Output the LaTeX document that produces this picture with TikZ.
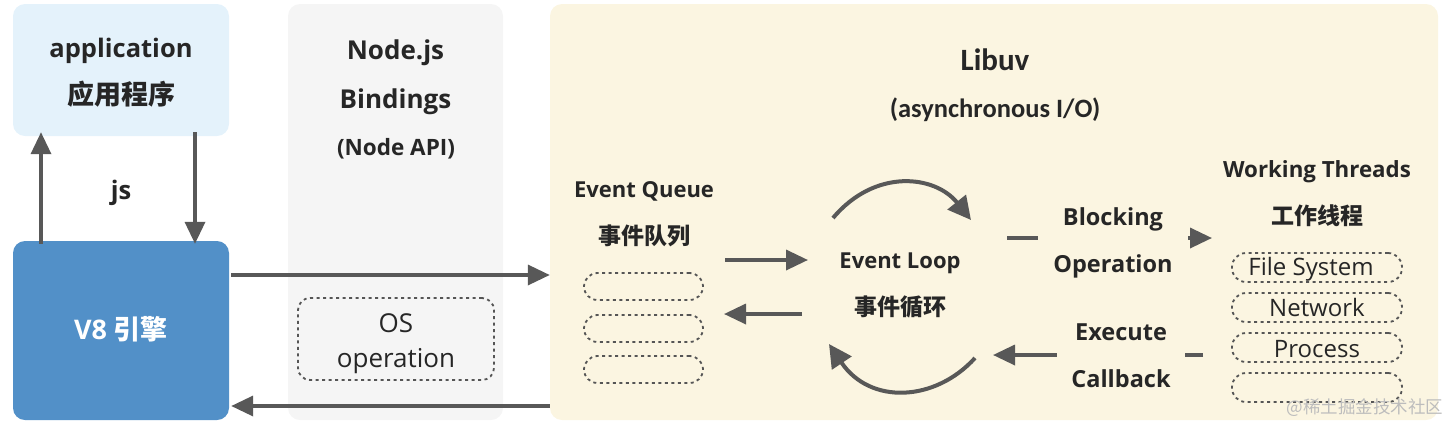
\documentclass[tikz,border=0pt]{standalone}
\usepackage{fontspec}
\setmainfont{Open Sans}
\newfontfamily\cjk{Noto Sans CJK SC}
\newfontfamily\calfont{Carlito}
\usetikzlibrary{arrows.meta}
\definecolor{appblue}{HTML}{E4F2FB}
\definecolor{v8blue}{HTML}{5290C8}
\definecolor{nodegray}{HTML}{F5F5F5}
\definecolor{libuvbg}{HTML}{FBF5E1}
\definecolor{ink}{HTML}{262626}
\definecolor{arrowgray}{HTML}{585858}
\definecolor{dashgray}{HTML}{555555}
\definecolor{wm}{HTML}{BDBDBD}
\newcommand\setfs[1]{\fontsize{#1}{#1}\selectfont}
\begin{document}
\begin{tikzpicture}[x=1pt,y=-1pt,
  panel/.style={rounded corners=12pt, minimum width=#1, inner sep=0pt},
  lbl/.style={text=ink, anchor=base, inner sep=0pt, font=\setfs{#1}\bfseries},
  clbl/.style={text=ink, anchor=base, inner sep=0pt, font=\cjk\setfs{#1}\bfseries},
  plain/.style={text=ink, anchor=base, inner sep=0pt, font=\setfs{#1}},
  slot/.style={draw=dashgray, line width=1.8pt, dash pattern=on 3pt off 3.5pt, inner sep=0pt},
  arr/.style={draw=arrowgray, line width=3.5pt, -{Triangle[length=22pt,width=20pt]}},
  carr/.style={draw=arrowgray, line width=4pt, -{Triangle[length=23pt,width=23pt]}},
  cover/.style={fill=libuvbg, inner sep=0pt, minimum height=90pt}
]
\useasboundingbox (0,0) rectangle (1452,424);
% panels
\node[panel=216pt, minimum height=132pt, fill=appblue] (app) at (121,70) {};
\node[panel=216pt, minimum height=179pt, fill=v8blue] (v8) at (121,330.5) {};
\node[panel=215pt, minimum height=416pt, fill=nodegray] (nodejs) at (395.5,212) {};
\node[panel=888pt, minimum height=416pt, fill=libuvbg] (libuv) at (994,212) {};
% application texts
\node[lbl=25.5] (appt) at (121,57) {application};
\node[clbl=27] (appc) at (121,104) {应用程序};
\node[text=white, anchor=base, inner sep=0pt, font=\setfs{27}\bfseries] (v8t) at (121,339) {V8 {\cjk\bfseries 引擎}};
\node[lbl=25.5] (js) at (121,199) {js};
% Node.js texts
\node[lbl=26] (njs) at (395.5,59) {Node.js};
\node[lbl=26] (nbind) at (395.5,108) {Bindings};
\node[lbl=22.5] (napi) at (396,155) {(Node API)};
\node[slot, rounded corners=12pt, minimum width=196pt, minimum height=82pt] (os) at (396,339) {};
\node[plain=26] (ost) at (396,332) {OS};
\node[plain=26] (osop) at (396,367) {operation};
% Libuv texts
\node[text=ink, anchor=base, inner sep=0pt, font=\calfont\setfs{31}\bfseries] (lib) at (995,70) {Libuv};
\node[text=ink, anchor=base, inner sep=0pt, font=\calfont\setfs{26.5}\bfseries] (async) at (995,117) {(asynchronous I/O)};
% Event queue
\node[lbl=22] (eq) at (644,197) {Event Queue};
\node[clbl=23] (eqc) at (644,244) {事件队列};
\foreach \i/\y in {1/286.5,2/328.5,3/369.5}
  \node[slot, rounded corners=13.5pt, minimum width=119pt, minimum height=27pt] (q\i) at (643.5,\y) {};
% Event loop
\node[lbl=22] (el) at (900,268) {Event Loop};
\node[clbl=23] (elc) at (900,315) {事件循环};
% Working threads
\node[lbl=22.3] (wt) at (1317,177) {Working Threads};
\node[clbl=23] (wtc) at (1317,224) {工作线程};
\foreach \i/\y in {1/267.5,2/307.5,3/347.5,4/387.5}
  \node[slot, rounded corners=14pt, minimum width=170pt, minimum height=29pt] (w\i) at (1317,\y) {};
\node[plain=24] (fs) at (1311,275) {File System};
\node[plain=24] (net) at (1317,316) {Network};
\node[plain=24] (proc) at (1317,357) {Process};
% coordinates for connectors
\coordinate (r1) at (0,275);
\coordinate (r2) at (0,406);
\coordinate (upx) at (41,0);
\coordinate (dnx) at (195,0);
\coordinate (e1s) at (725,260);
\coordinate (e1t) at (808,260);
\coordinate (e2s) at (802,314);
\coordinate (e2t) at (724,314);
\coordinate (bs) at (1007,238);
\coordinate (bt) at (1212,238);
\coordinate (cs) at (1203,355);
\coordinate (ct) at (993,355);
\coordinate (t1) at (833,218);
\coordinate (t2) at (971,220);
\coordinate (b1) at (975,358);
\coordinate (b2) at (829,344);
% connectors
\draw[arr] ([yshift=-3pt]v8.north -| upx) -- ([yshift=4pt]app.south -| upx);
\draw[arr] ([yshift=4pt]app.south -| dnx) -- ([yshift=-3pt]v8.north -| dnx);
\draw[arr] ([xshift=2pt]v8.east |- r1) -- (libuv.west |- r1);
\draw[arr] (libuv.west |- r2) -- ([xshift=2pt]v8.east |- r2);
\draw[arr] (e1s) -- (e1t);
\draw[arr] (e2s) -- (e2t);
\draw[carr] (t1) .. controls (875,168) and (935,175) .. (t2);
\draw[carr] (b1) .. controls (935,402) and (870,405) .. (b2);
\draw[arr] (bs) -- (bt);
\draw[arr] (cs) -- (ct);
\node[cover, minimum width=150pt] (blockc) at (1113,240) {};
\node[cover, minimum width=128pt] (execc) at (1121,358) {};
\node[lbl=23.5] (blk) at (1113,225) {Blocking};
\node[lbl=23.5] (oper) at (1113,272) {Operation};
\node[lbl=23.5] (exe) at (1121,340) {Execute};
\node[lbl=23.5] (cb) at (1121,387) {Callback};
% watermark
\node[text=wm, font=\cjk\setfs{17.5}, anchor=east] (mark) at (1447,408) {@稀土掘金技术社区};
\end{tikzpicture}
\end{document}
